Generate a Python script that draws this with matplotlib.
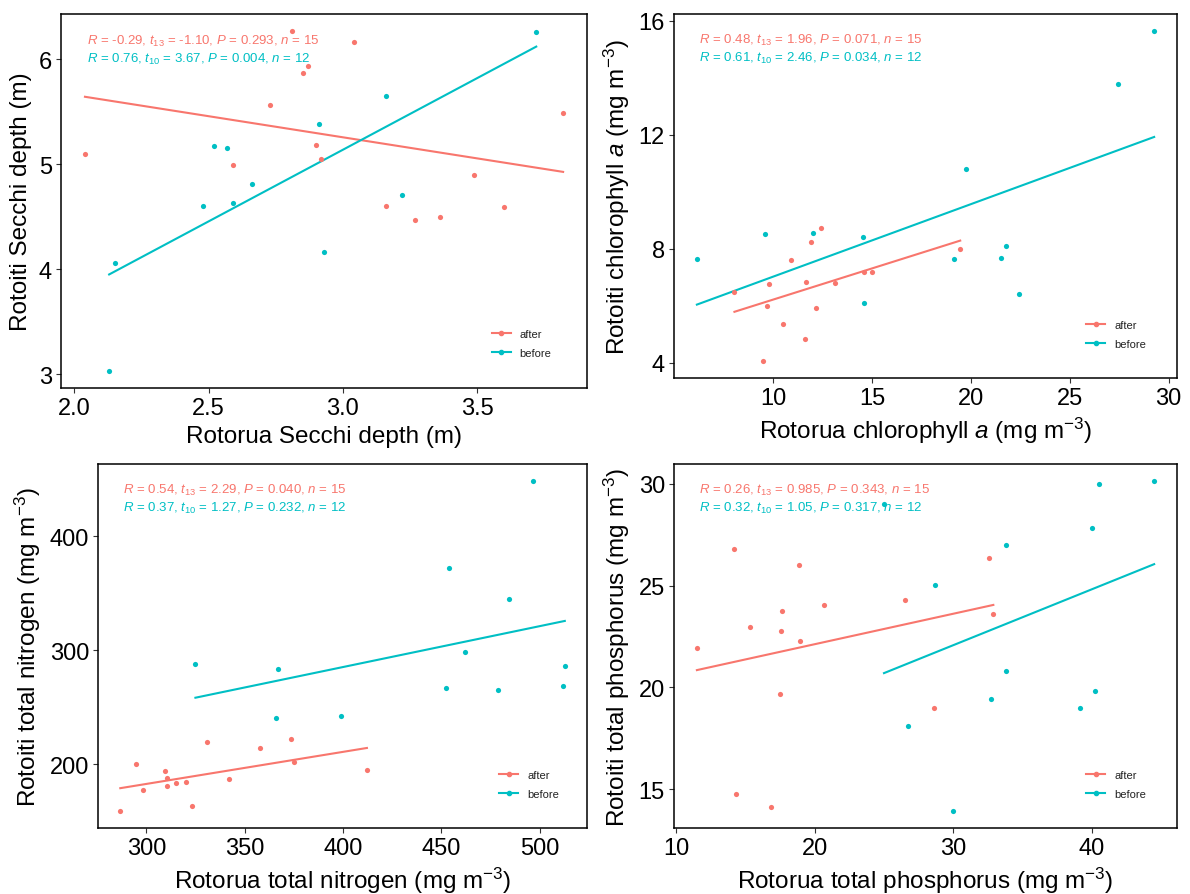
import numpy as np
import matplotlib
matplotlib.use("Agg")
import matplotlib.pyplot as plt
from matplotlib.lines import Line2D

plt.rcParams["font.family"] = ["Liberation Sans", "DejaVu Sans"]
plt.rcParams["mathtext.fontset"] = "custom"
plt.rcParams["mathtext.rm"] = "Liberation Sans"
plt.rcParams["mathtext.it"] = "Liberation Sans:italic"
plt.rcParams["mathtext.bf"] = "Liberation Sans:bold"

col_after = "#F8766D"
col_before = "#00BFC4"

# ---------------------------------------------------------
# Daten: Rotorua (x) gegen Rotoiti (y), vor / nach
# ---------------------------------------------------------
# Secchi depth (m)
secchi_rotorua_after = [2.04, 2.81, 3.04, 2.87, 2.85, 2.73, 3.82, 2.90, 2.59, 2.92,
                        3.49, 3.16, 3.60, 3.27, 3.36]
secchi_rotoiti_after = [5.10, 6.27, 6.16, 5.94, 5.87, 5.56, 5.49, 5.18, 4.99, 5.05,
                        4.90, 4.60, 4.59, 4.47, 4.50]
secchi_rotorua_before = [3.72, 3.16, 2.91, 2.52, 2.57, 2.66, 2.59, 2.48, 3.22, 2.93,
                         2.15, 2.13]
secchi_rotoiti_before = [6.26, 5.65, 5.38, 5.17, 5.15, 4.81, 4.63, 4.60, 4.71, 4.16,
                         4.06, 3.03]

# Chlorophyll a (mg m-3)
chla_rotorua_after = [8.04, 9.81, 9.67, 9.50, 10.50, 10.90, 11.67, 11.63, 11.90, 12.40,
                      12.17, 13.15, 14.61, 15.01, 19.46]
chla_rotoiti_after = [6.47, 6.76, 6.00, 4.05, 5.37, 7.61, 6.82, 4.84, 8.23, 8.73,
                      5.91, 6.79, 7.17, 7.19, 8.01]
chla_rotorua_before = [6.14, 9.58, 12.03, 14.53, 14.61, 19.16, 19.73, 21.50, 21.77, 22.44,
                       27.45, 29.27]
chla_rotoiti_before = [7.63, 8.52, 8.56, 8.42, 6.09, 7.63, 10.81, 7.67, 8.10, 6.41,
                       13.76, 15.65]

# Total nitrogen (mg m-3)
tn_rotorua_after = [286.7, 294.8, 298.1, 309.6, 310.2, 310.6, 315.2, 320.3, 323.0, 330.9,
                    342.0, 357.7, 373.5, 374.8, 412.1]
tn_rotoiti_after = [158.5, 200.3, 177.5, 194.2, 188.3, 180.7, 183.1, 184.5, 163.2, 219.3,
                    186.9, 214.3, 222.2, 202.0, 194.7]
tn_rotorua_before = [324.9, 366.7, 365.8, 398.9, 452.4, 453.7, 462.2, 478.6, 484.2, 496.3,
                     511.8, 512.7]
tn_rotoiti_before = [288.2, 283.5, 240.3, 242.0, 267.2, 372.3, 298.4, 265.4, 344.8, 448.8,
                     268.6, 285.8]

# Total phosphorus (mg m-3)
tp_rotorua_after = [11.48, 14.17, 14.33, 15.29, 16.83, 17.46, 17.57, 17.62, 18.86, 18.94,
                    20.67, 26.51, 28.59, 32.59, 32.90]
tp_rotoiti_after = [21.94, 26.81, 14.74, 22.98, 14.13, 19.68, 22.75, 23.77, 26.02, 22.28,
                    24.03, 24.31, 18.97, 26.38, 23.60]
tp_rotorua_before = [25.00, 26.70, 28.65, 29.99, 32.70, 33.80, 33.80, 39.17, 40.00, 40.27,
                     40.52, 44.52]
tp_rotoiti_before = [29.00, 18.09, 25.01, 13.90, 19.42, 26.99, 20.82, 18.97, 27.82, 19.81,
                     29.98, 30.16]

# Achsenticks
secchi_xticks = [2.0, 2.5, 3.0, 3.5]
secchi_yticks = [3, 4, 5, 6]
chla_xticks = [10, 15, 20, 25, 30]
chla_yticks = [4, 8, 12, 16]
tn_xticks = [300, 350, 400, 450, 500]
tn_yticks = [200, 300, 400]
tp_xticks = [10, 20, 30, 40]
tp_yticks = [15, 20, 25, 30]

# Statistik-Texte (after, before)
secchi_stats = [r"$R$ = -0.29, $t_{13}$ = -1.10, $P$ = 0.293, $n$ = 15",
                r"$R$ = 0.76, $t_{10}$ = 3.67, $P$ = 0.004, $n$ = 12"]
chla_stats = [r"$R$ = 0.48, $t_{13}$ = 1.96, $P$ = 0.071, $n$ = 15",
              r"$R$ = 0.61, $t_{10}$ = 2.46, $P$ = 0.034, $n$ = 12"]
tn_stats = [r"$R$ = 0.54, $t_{13}$ = 2.29, $P$ = 0.040, $n$ = 15",
            r"$R$ = 0.37, $t_{10}$ = 1.27, $P$ = 0.232, $n$ = 12"]
tp_stats = [r"$R$ = 0.26, $t_{13}$ = 0.985, $P$ = 0.343, $n$ = 15",
            r"$R$ = 0.32, $t_{10}$ = 1.05, $P$ = 0.317, $n$ = 12"]


def panel(ax, xa, ya, xb, yb, stats, xlabel, ylabel, xticks, yticks):
    for x, y, col in [(xa, ya, col_after), (xb, yb, col_before)]:
        x = np.asarray(x)
        y = np.asarray(y)
        ax.scatter(x, y, s=14, color=col, linewidths=0, zorder=3)
        # lineare Regression, nur ueber den Datenbereich
        slope, icept = np.polyfit(x, y, 1)
        xx = np.array([x.min(), x.max()])
        ax.plot(xx, icept + slope * xx, color=col, lw=1.5, zorder=2)

    ax.margins(0.05)
    ax.autoscale_view()
    xl = ax.get_xlim()
    yl = ax.get_ylim()
    ax.set_xticks(xticks)
    ax.set_yticks(yticks)
    ax.set_xlim(xl)
    ax.set_ylim(yl)
    ax.tick_params(labelsize=17, length=3.5, width=0.8, color="#333333",
                   labelcolor="black", pad=3)
    for sp in ax.spines.values():
        sp.set_linewidth(1.1)
        sp.set_color("black")

    ax.set_xlabel(xlabel, fontsize=17.5, labelpad=4)
    ax.set_ylabel(ylabel, fontsize=17.5, labelpad=5)

    ax.text(0.05, 0.93, stats[0], transform=ax.transAxes, color=col_after,
            fontsize=9.5, va="center", ha="left")
    ax.text(0.05, 0.88, stats[1], transform=ax.transAxes, color=col_before,
            fontsize=9.5, va="center", ha="left")

    handles = [Line2D([], [], color=col_after, marker="o", markersize=3, lw=1.5),
               Line2D([], [], color=col_before, marker="o", markersize=3, lw=1.5)]
    leg = ax.legend(handles, ["after", "before"], loc="center left",
                    bbox_to_anchor=(0.8, 0.12), frameon=False, fontsize=8,
                    handlelength=1.7, handletextpad=0.8, labelspacing=0.8,
                    numpoints=1)
    for t in leg.get_texts():
        t.set_color("#222222")


fig = plt.figure(figsize=(11.9, 8.95), dpi=100)
ax1 = fig.add_axes([0.0513, 0.5654, 0.4420, 0.4179])
ax2 = fig.add_axes([0.5664, 0.5765, 0.4227, 0.4067])
ax3 = fig.add_axes([0.0824, 0.0737, 0.4109, 0.4067])
ax4 = fig.add_axes([0.5664, 0.0737, 0.4227, 0.4067])

panel(ax1, secchi_rotorua_after, secchi_rotoiti_after,
      secchi_rotorua_before, secchi_rotoiti_before, secchi_stats,
      "Rotorua Secchi depth (m)", "Rotoiti Secchi depth (m)",
      secchi_xticks, secchi_yticks)
panel(ax2, chla_rotorua_after, chla_rotoiti_after,
      chla_rotorua_before, chla_rotoiti_before, chla_stats,
      r"Rotorua chlorophyll $a$ (mg m$^{-3}$)",
      r"Rotoiti chlorophyll $a$ (mg m$^{-3}$)",
      chla_xticks, chla_yticks)
panel(ax3, tn_rotorua_after, tn_rotoiti_after,
      tn_rotorua_before, tn_rotoiti_before, tn_stats,
      r"Rotorua total nitrogen (mg m$^{-3}$)",
      r"Rotoiti total nitrogen (mg m$^{-3}$)",
      tn_xticks, tn_yticks)
panel(ax4, tp_rotorua_after, tp_rotoiti_after,
      tp_rotorua_before, tp_rotoiti_before, tp_stats,
      r"Rotorua total phosphorus (mg m$^{-3}$)",
      r"Rotoiti total phosphorus (mg m$^{-3}$)",
      tp_xticks, tp_yticks)

fig.savefig("out.png", dpi=100)
